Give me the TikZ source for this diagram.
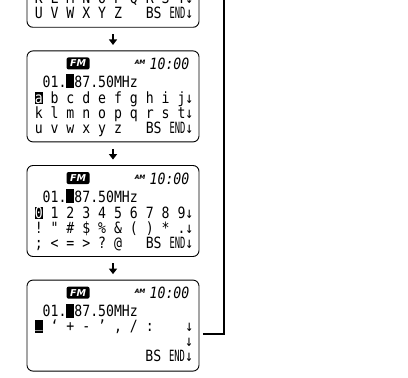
\documentclass[tikz,border=0pt]{standalone}
\usepackage{fontspec}
\usepackage{graphicx}
\usepackage{tikz}
\usetikzlibrary{arrows.meta,positioning}
\newfontfamily\lcdfont[FakeStretch=0.85]{DejaVu Sans Mono}
\newfontfamily\tagfont{DejaVu Sans}
\newcommand{\hlc}[1]{\rlap{\rule[-1pt]{\fontcharwd\font`0}{12.5pt}}\textcolor{white}{#1}}
\newcommand{\curs}{\rule[-1pt]{\fontcharwd\font`0}{14pt}}
\newcommand{\lcdend}{\scalebox{0.667}[1]{END}}

\begin{document}
\begin{tikzpicture}[
    x=1pt, y=1pt,
    node distance=22.7pt,
    lcd/.style={draw, line width=0.9pt, rounded corners=6pt, minimum width=172pt, minimum height=91pt, inner sep=0pt},
    row/.style={inner sep=0pt, anchor=base west, font=\lcdfont\fontsize{15.5}{16}\selectfont\frenchspacing},
    band/.style={fill=black, text=white, rounded corners=2pt, minimum width=23pt, minimum height=12pt, inner sep=0pt, font=\tagfont\bfseries\itshape\fontsize{9.5}{10}\selectfont},
    ampm/.style={inner sep=0pt, anchor=base west, font=\tagfont\bfseries\itshape\fontsize{6}{6}\selectfont},
    clock/.style={inner sep=0pt, anchor=base east, font=\lcdfont\itshape\fontsize{15.5}{16}\selectfont},
    flow/.style={-{Triangle[width=8pt,length=5.5pt]}, line width=1.6pt, shorten <=6.5pt, shorten >=5.5pt},
    loopline/.style={line width=1.8pt}
]
\useasboundingbox (0,0) rectangle (408,378);
\clip (0,0) rectangle (408,378);

% screens
\node[lcd] (s1) at (113,396.2) {};
\node[lcd, below=of s1] (s2) {};
\node[lcd, below=of s2] (s3) {};
\node[lcd, below=of s3] (s4) {};

% screen 1 (upper part cut off)
\node[row] (s1r2) at ([shift={(8,-68)}]s1.north west) {K L M N O P Q R S T↓};
\node[row] (s1r3) at ([shift={(8,-83)}]s1.north west) {U V W X Y Z~~~BS \lcdend↓};

% screen 2
\node[band] (s2fm) at ([shift={(51.5,-13)}]s2.north west) {FM};
\node[ampm] (s2am) at ([shift={(108,-14)}]s2.north west) {AM};
\node[clock] (s2tm) at ([shift={(163,-19)}]s2.north west) {10:00};
\node[row] (s2fq) at ([shift={(8,-37)}]s2.north west) {~01.\curs 87.50MHz};
\node[row] (s2r1) at ([shift={(8,-53)}]s2.north west) {\hlc{a} b c d e f g h i j↓};
\node[row] (s2r2) at ([shift={(8,-68)}]s2.north west) {k l m n o p q r s t↓};
\node[row] (s2r3) at ([shift={(8,-83)}]s2.north west) {u v w x y z~~~BS \lcdend↓};

% screen 3
\node[band] (s3fm) at ([shift={(51.5,-13)}]s3.north west) {FM};
\node[ampm] (s3am) at ([shift={(108,-14)}]s3.north west) {AM};
\node[clock] (s3tm) at ([shift={(163,-19)}]s3.north west) {10:00};
\node[row] (s3fq) at ([shift={(8,-37)}]s3.north west) {~01.\curs 87.50MHz};
\node[row] (s3r1) at ([shift={(8,-53)}]s3.north west) {\hlc{0} 1 2 3 4 5 6 7 8 9↓};
\node[row] (s3r2) at ([shift={(8,-68)}]s3.north west) {! " \# \$ \% \& ( ) * .↓};
\node[row] (s3r3) at ([shift={(8,-83)}]s3.north west) {; < = > ? @~~~BS \lcdend↓};

% screen 4
\node[band] (s4fm) at ([shift={(51.5,-13)}]s4.north west) {FM};
\node[ampm] (s4am) at ([shift={(108,-14)}]s4.north west) {AM};
\node[clock] (s4tm) at ([shift={(163,-19)}]s4.north west) {10:00};
\node[row] (s4fq) at ([shift={(8,-37)}]s4.north west) {~01.\curs 87.50MHz};
\node[row] (s4r1) at ([shift={(8,-52)}]s4.north west) {\hlc{\raisebox{4pt}{\_}} ‘ + - ’ , / :~~~~↓};
\node[row, anchor=base east] (s4r2) at ([shift={(166.6,-67)}]s4.north west) {↓};
\node[row, anchor=base east] (s4r3) at ([shift={(166.6,-82)}]s4.north west) {BS \lcdend↓};

% steps
\draw[flow] (s1.south) -- (s2.north);
\draw[flow] (s2.south) -- (s3.north);
\draw[flow] (s3.south) -- (s4.north);

% back to the first screen
\coordinate (ret) at (224,382);
\draw[loopline] ([shift={(3.5,-8.2)}]s4.east) -| (ret);
\end{tikzpicture}
\end{document}
